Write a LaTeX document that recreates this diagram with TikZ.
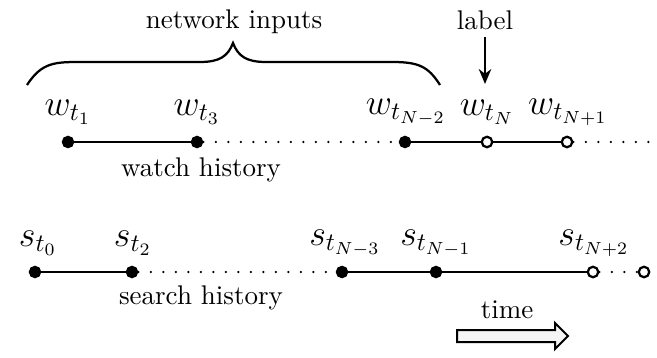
\documentclass[tikz,border=0pt]{standalone}
\usetikzlibrary{arrows.meta}
\begin{document}
\begin{tikzpicture}[x=0.4pt,y=-0.4pt,
  full/.style={circle,fill=black,draw=black,line width=0.6pt,minimum size=4.4pt,inner sep=0pt},
  hollow/.style={circle,fill=white,draw=black,line width=0.9pt,minimum size=4.2pt,inner sep=0pt},
  seg/.style={line width=0.8pt},
  dots/.style={line width=1pt,line cap=round,dash pattern=on 0pt off 5pt},
  mlab/.style={inner sep=0pt,font=\fontsize{14}{16}\selectfont},
  txt/.style={inner sep=0pt,font=\fontsize{10.8}{13}\selectfont}]
\useasboundingbox (0,0) rectangle (657,358);
% top row
\node[full] (w1) at (68,142) {};
\node[full] (w3) at (197,142) {};
\node[full] (wn2) at (405,142) {};
\node[hollow] (wn) at (487,142) {};
\node[hollow] (wn1) at (567,142) {};
\coordinate (wend) at (656,142);
\draw[seg] (w1) -- (w3);
\draw[dots] (w3) -- (wn2);
\draw[seg] (wn2) -- (wn) -- (wn1);
\draw[dots] (wn1) -- (wend);
\node[mlab] (lw1) at (68,112) {$w_{t_1}$};
\node[mlab] (lw3) at (197,112) {$w_{t_3}$};
\node[mlab] (lwn2) at (406,112) {$w_{t_{N-2}}$};
\node[mlab] (lwn) at (487,112) {$w_{t_N}$};
\node[mlab] (lwn1) at (568,112) {$w_{t_{N+1}}$};
\node[txt] (wh) at (201,170) {watch history};
% brace
\draw[line width=0.9pt] (27,85) .. controls (42,62) and (55,62) .. (82,62)
  -- (200,62) .. controls (220,62) and (228,56) .. (233,43)
  .. controls (238,56) and (246,62) .. (266,62)
  -- (392,62) .. controls (418,62) and (428,66) .. (440,85);
\node[txt] (ni) at (234,22) {network inputs};
% label arrow
\node[txt] (lb) at (485,20) {label};
\coordinate (lbstart) at (485,37);
\coordinate (lbtip) at (485,84);
\draw[line width=0.8pt,-{Stealth[length=6pt,width=5pt]}] (lbstart) -- (lbtip);
% bottom row
\node[full] (s0) at (35,272) {};
\node[full] (s2) at (132,272) {};
\node[full] (sn3) at (342,272) {};
\node[full] (sn1) at (436,272) {};
\node[hollow] (sn2) at (593,272) {};
\node[hollow] (send) at (644,272) {};
\draw[seg] (s0) -- (s2);
\draw[dots] (s2) -- (sn3);
\draw[seg] (sn3) -- (sn1) -- (sn2);
\draw[dots] (sn2) -- (send);
\node[mlab] (ls0) at (38,243) {$s_{t_0}$};
\node[mlab] (ls2) at (133,243) {$s_{t_2}$};
\node[mlab] (lsn3) at (345,243) {$s_{t_{N-3}}$};
\node[mlab] (lsn1) at (436,243) {$s_{t_{N-1}}$};
\node[mlab] (lsn2) at (594,243) {$s_{t_{N+2}}$};
\node[txt] (sh) at (201,298) {search history};
% time arrow
\node[txt] (tm) at (507,310) {time};
\draw[fill=black!4,line width=0.8pt,line join=miter]
  (457,330) -- (555,330) -- (555,323) -- (568,336) -- (555,349) -- (555,342) -- (457,342) -- cycle;
\end{tikzpicture}
\end{document}
